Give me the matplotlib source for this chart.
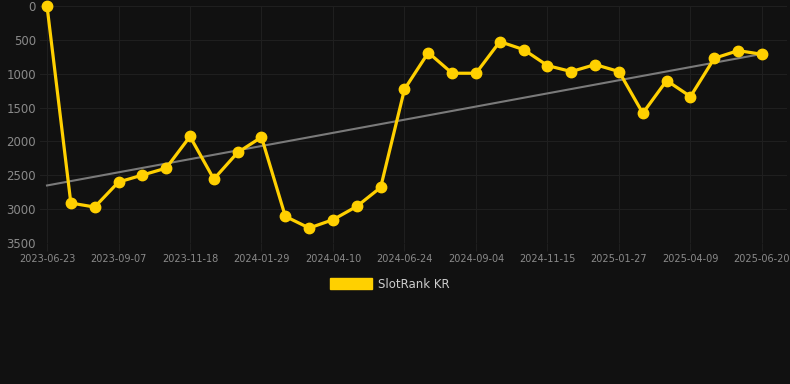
import matplotlib
matplotlib.use("Agg")
import matplotlib.pyplot as plt
from matplotlib.patches import Patch
import numpy as np

ranks = [0, 2910, 2969, 2600, 2497, 2394, 1927, 2556, 2163, 1937,
         3107, 3279, 3156, 2959, 2679, 1229, 688, 993, 993, 526,
         644, 880, 968, 865, 968, 1583, 1101, 1337, 772, 659, 713]
tick_labels = ["2023-06-23", "2023-09-07", "2023-11-18", "2024-01-29", "2024-04-10",
               "2024-06-24", "2024-09-04", "2024-11-15", "2025-01-27", "2025-04-09",
               "2025-06-20"]
y_ticks = [0, 500, 1000, 1500, 2000, 2500, 3000, 3500]
series_name = "SlotRank KR"

bg = "#111111"
gold = "#FFD000"

fig = plt.figure(figsize=(7.9, 3.84), dpi=100, facecolor=bg)
W, H = 790, 384
ax = fig.add_axes([40 / W, (H - 243) / H, (787 - 40) / W, (243 - 6) / H], facecolor=bg)

x = np.arange(len(ranks))
y = np.array(ranks, dtype=float)

# trend line (linear regression)
coef = np.polyfit(x, y, 1)
ax.plot(x, np.polyval(coef, x), color="#7a7a7a", lw=1.5, zorder=2)

ax.plot(x, y, color=gold, lw=2.3, marker="o", ms=7.5, zorder=3, clip_on=False)

ax.set_ylim(3500, 0)
ax.set_xlim(-0.294, 31.05)
ax.set_yticks(y_ticks)
ax.set_yticklabels([str(v) for v in y_ticks])
ax.set_xticks(np.arange(0, len(ranks), 3))
ax.set_xticklabels(tick_labels)

ax.grid(True, color="#1f1f1f", lw=0.8)
for s in ax.spines.values():
    s.set_visible(False)
ax.tick_params(axis="y", length=0, pad=3, labelsize=8.5, labelcolor="#8a8a8a")
ax.tick_params(axis="x", length=6, color="#1f1f1f", pad=2, labelsize=7, labelcolor="#8a8a8a")

handle = Patch(facecolor=gold, edgecolor=gold)
leg = fig.legend([handle], [series_name], loc="center", bbox_to_anchor=(390 / W, 1 - 284 / H),
                 frameon=False, fontsize=8.5, handlelength=3.6, handleheight=1.0,
                 handletextpad=0.5, labelcolor="#cccccc")

fig.savefig("out.png", dpi=100, facecolor=bg)
